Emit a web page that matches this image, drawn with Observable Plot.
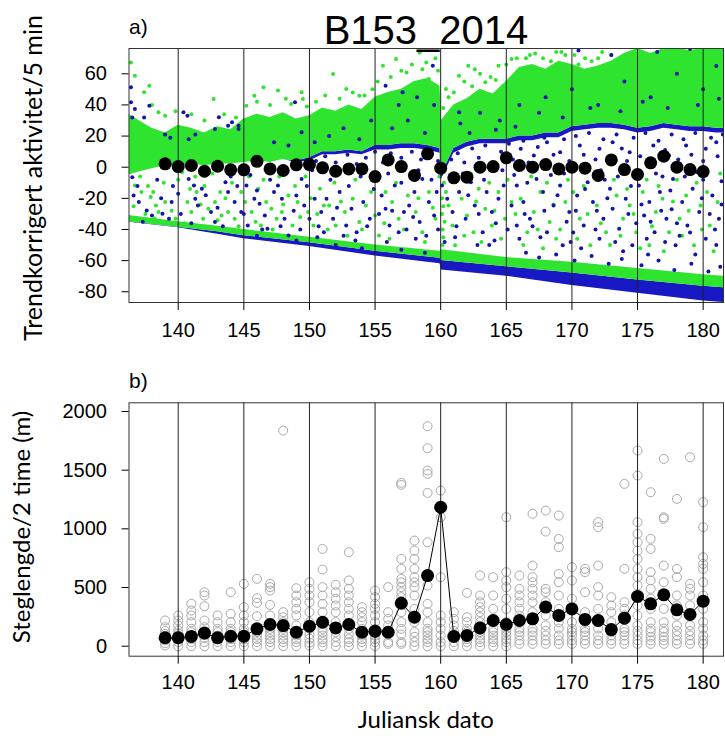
<!DOCTYPE html>
<html><head><meta charset="utf-8">
<script src="https://cdn.jsdelivr.net/npm/d3@7"></script>
<script src="https://cdn.jsdelivr.net/npm/@observablehq/plot@0.6"></script>
<style>
body{margin:0;background:#fff;}
#chart{position:relative;width:725px;height:742px;overflow:hidden;background:#fff;}
#chart > svg{position:absolute;left:0;}
</style></head><body><div id="chart"></div>
<script>
// ---------- labels ----------
const titleText = "B153_2014";
const panelA = "a)";
const panelB = "b)";
const yLabelTop = "Trendkorrigert aktivitet/5 min";
const yLabelBottom = "Steglengde/2 time (m)";
const xLabel = "Juliansk dato";
const gridDays = [140, 145, 150, 155, 160, 165, 170, 175, 180];
const yTicksTop = [-80, -60, -40, -20, 0, 20, 40, 60];
const yTicksBottom = [0, 500, 1000, 1500, 2000];

// ---------- panel a: dense cloud envelopes ----------
const bandDay    = [136.25,137,138,139,140,141,142,143,144,145,146,147,148,149,150,151,152,153,154,155,156,157,158,159,159.95,160.05,161,162,163,164,165,166,167,168,169,170,171,172,173,174,175,176,177,178,179,180,181,181.55];
const greenTop   = [34,30,25,22,27,25,22,26,24,31,34,32,35,31,33,38,36,40,37,45,48,50,55,57,52,30,40,44,50,47,55,64,66,63,68,66,63,65,68,73,76.25,73,76.25,76.25,75,76.25,76.25,76.25];
const greenBottom= [-5,-3,-1,1,0,2,1,2,2,3,4,3,5,4,6,10,10,11,10,14,14,15,15,14,12,-5,12,16,18,18,18,20,20,22,22,26,27,28,28,27,25,26,28,27,26,26,25,25];
const blueLow    = [-5,-3,-1,1,0,2,1,2,2,3,4,3,5,3,4,8,8,9,8,11,11,12,12,11,9,-8,9,13,15,15,15,17,17,19,19,23,24,25,25,24,22,23,25,24,23,23,22,22];

const floorDay        = [136.25,140,143,145,150,155,159.95,160.05,165,170,175,180,181.55];
const floorGreenTop   = [-31,-35,-38,-40,-45,-50,-54,-53,-58,-61,-65,-69,-70];
const floorBlueTop    = [-35,-38.5,-41.5,-44,-48.5,-54,-58.5,-60,-64,-68,-72.5,-76.5,-77.5];
const floorBlueBottom = [-35.3,-38.9,-43,-46,-51,-57,-62,-66,-70,-76,-81,-86,-86.9];

// ---------- panel a: sparse points (day, value) ----------
const blueScatter = [
[136.4,51.3],[136.4,41.7],[136.7,37.4],[137.8,39.5],[136.5,-6.4],[136.6,-18.2],[137.0,-22.4],[137.6,-27.8],[138.0,-31],[138.8,-29.9],[139.3,-33.1],[139.5,-22.4],[140.0,-17.1],[140.4,35.3],[140.7,33.1],[140.8,-7.5],[141.2,-11.7],[141.3,-20.3],[141.5,-24.6],[141.8,-13.9],[142.3,-3.2],[142.5,-28.8],[142.8,-35.2],[143.1,32.1],[143.6,-9.6],[143.8,-16],[144.1,28.9],[144.3,-22.4],[144.6,26.7],[144.8,-28.8],[145.2,-11.7],[145.3,-37.4],[145.8,-20.3],[146.2,-23.5],[146.6,-31],[146.8,-39.5],[147.3,-16],[147.6,-11.7],[147.9,-20.3],[148.1,-33.1],[148.4,-43.8],[148.9,41.7],[149.0,-18.2],[149.4,-7.5],[149.6,-24.6],[150.0,-33.1],[150.4,-20.3],[150.9,-28.8],[151.1,-41.7],
[151.3,-20.3],[151.8,-33.1],[152.3,-16],[152.8,-37.4],[153.2,-26.7],[153.6,-41.7],[154.1,-22.4],[154.6,-33.1],[155.1,-7.5],[155.5,-18.2],[155.8,-26.7],[156.1,-37.4],[156.5,-11.7],[156.8,-41.7],[157.2,-28.8],[157.6,-24.6],[158.0,-16],[158.4,-35.2],[158.6,-7.5],[159.1,-22.4],[159.5,-31],[159.7,-16],[160.1,-11.7],[160.5,-20.3],[160.9,-28.8],[161.4,-16],[161.9,-33.1],[162.3,-9.6],[162.6,-24.6],[163.2,-41.7],[163.5,-16],[163.9,-28.8],[164.4,-20.3],[164.8,-11.7],[165.4,-24.6],[165.8,-37.4],[155.8,52.4],[157.1,48.1],[159.4,65.2],[161.4,35.3],
[165.8,-11.7],[166.3,-22.4],[166.8,-33.1],[167.3,-7.5],[167.8,-16],[168.1,-41.7],[168.6,-24.6],[169.1,-11.7],[169.3,-50.2],[169.8,-28.8],[170.4,-18.2],[170.9,-37.4],[171.2,-9.6],[171.6,-22.4],[172.1,-45.9],[172.4,-33.1],[172.9,-13.9],[173.1,-26.7],[173.6,-39.5],[174.1,-20.3],[174.6,-50.2],[175.1,-11.7],[175.5,-31],[175.9,-22.4],[176.3,-41.7],[176.7,-16],[177.2,-33.1],[177.7,-7.5],[177.9,-50.2],[178.4,-22.4],[178.8,-37.4],[179.2,-13.9],[179.7,-28.8],[180.2,-45.9],[180.7,-18.2],[181.2,-33.1],
[166.1,11.8],[167.1,7.5],[168.1,16],[169.1,9.6],[170.6,13.9],[172.1,11.8],[173.1,16],[174.4,9.6],[176.2,13.9],[177.4,7.5],[178.7,13.9],[180.2,11.8],[181.0,16],
[166.5,-55],[167.5,-58],[168.8,-56],[170.2,-60],[171.5,-57],[172.8,-62],[173.8,-59],[175.3,-63],[176.6,-60],[177.8,-66],[179.1,-62],[180.4,-67],[181.3,-64],[146.0,-44],[149.0,-47],[152.0,-50],[154.0,-52],[157.0,-53],[158.8,-55],
[166.9,-2],[168.4,-5],[170.8,-3],[172.5,-8],[174.8,-4],[176.9,-6],[179.5,-3],[181.4,-9],[167.6,-45],[170.1,-42],[173.3,-48],[175.7,-46],[178.2,-44],[180.9,-40],[169.6,-35],[174.3,-30],[177.6,-27],[166.4,-30],[171.9,-28],[176.0,-35],[179.9,-20],[161.1,-45],[162.8,-50],[164.1,-47],[158.1,-46],[155.9,-48],[153.5,-47],[150.6,-45],
[136.9,-12],[137.3,-35],[138.4,-8],[138.7,-20],[139.6,-12],[140.2,-30],[141.0,-36],[141.9,-5],[142.1,-18],[143.0,-26],[143.4,-38],[144.0,-6],[144.5,-12],[145.0,-30],[145.5,-5],[146.0,-15],[146.4,-40],[147.0,-8],[147.8,-38],[148.2,-4],[148.8,-28],[149.3,-40],[149.8,-12],[150.2,-2],[150.7,-38],[151.6,-8],[152.1,-26],[152.6,-44],[153.0,-12],[153.9,-6],[154.4,-38],[154.9,-14],[155.3,-30],[156.0,-4],[156.3,-28],[157.0,-10],[157.4,-40],[157.9,-32],[158.3,-2],[158.9,-44],[159.3,-8],[159.8,-40],[160.3,-48],[160.7,-6],[161.2,-38],[161.7,-4],[162.1,-18],[162.9,-30],[163.3,-8],[163.7,-50],[164.2,-36],[164.7,-2],[165.1,-40],[165.6,-5],[166.0,-46],[166.6,-10],[167.0,-38],[167.9,-28],[168.3,2],[168.9,-18],[169.4,-4],[169.9,-48],[170.3,-28],[170.7,-52],[171.0,-14],[171.8,-40],[172.2,-2],[172.7,-20],[173.5,-6],[173.9,-54],[174.5,-12],[174.9,-36],[175.3,-24],[175.8,-56],[176.4,-4],[176.8,-28],[177.1,-48],[177.5,-15],[178.0,-36],[178.6,-6],[179.0,-42],[179.4,-56],[180.0,-8],[180.5,-30],[181.0,-50],[181.4,-24],
[160.8,5],[161.3,9],[161.8,3],[162.4,12],[162.9,6],[163.4,14],[163.9,2],[164.6,10],[165.2,15],[165.5,5],[166.3,17],[166.7,3],[167.4,13],[167.9,19],[168.6,8],[169.4,18],[169.8,4],[170.3,20],[170.9,8],[171.3,22],[171.8,5],[172.4,18],[172.8,3],[173.4,21],[173.8,12],[174.2,4],[174.7,19],[175.2,7],[175.6,22],[176.1,4],[176.6,17],[177.1,11],[177.6,21],[178.1,5],[178.5,18],[179.1,8],[179.4,22],[180.0,4],[180.6,19],[181.1,7],[181.5,21],
[150.5,4],[151.2,7],[152.0,3],[152.9,8],[153.6,2],[154.3,6],[155.0,10],[155.6,3],[156.2,9],[157.0,6],[157.8,10],[158.5,5],[159.2,11],[159.8,4]
];
const blueInBand = [
[136.5,32],[137.4,32],[139.0,21],[139.4,19],[140.8,18],[141.3,21],[142.8,24.6],[143.8,26.7],[144.6,24.6],[147.3,16],[148.4,13.9],[149.4,22.4],[150.4,16],[151.5,20],[152.6,25],[153.8,18],[154.7,30],[156.3,25],[157.5,30],[158.8,22],[159.5,40],[161.5,28],[163.0,35],[164.5,30],[166.0,40],[168.0,45],[170.0,50],[172.0,40],[174.0,55],[176.0,45],[178.0,60],[180.0,50],[181.0,65],[170.5,75],[173.0,72],[176.5,74],[179.0,76],[167.5,35],[169.3,32],[171.4,38],[173.7,36],[175.4,42],[177.3,38],[179.6,40],[181.2,44],[162.2,22],[164.2,24],[165.7,26],[156.8,40],[158.2,45]
];
const greenScatter = [
[136.4,67.3],[136.7,58.8],[137.8,52.4],[137.4,48.1],[138.5,35.3],[142.7,43.8],[145.2,39.5],[145.8,45.9],[146.5,51.3],[147.6,49.2],[148.6,40.6],[149.4,48.1],[149.5,43.8],
[136.7,-11.7],[137.2,-16],[137.9,-19.2],[138.3,-24.6],[138.5,-28.8],[139.0,-22.4],[139.8,-33.1],[140.3,-3.2],[140.7,-22.4],[141.0,-28.8],[141.4,-16],[141.9,-33.1],[142.3,-26.7],[142.8,-22.4],[143.2,-16],[143.3,-31],[143.8,-28.8],[144.3,-33.1],[144.8,-16],[145.1,-22.4],[145.6,-28.8],[146.1,-13.9],[146.3,-37.4],[146.7,-22.4],[147.1,-26.7],[147.5,-33.1],[147.9,-28.8],[148.4,-18.2],[148.7,-37.4],[149.1,-22.4],[149.9,-28.8],[150.3,-37.4],[150.8,-13.9],[151.1,-24.6],
[151.8,59.8],[152.8,50.2],[153.8,45.9],[155.6,65.2],[156.6,69.5],[157.4,60.9],[158.4,73.7],[158.9,67.3],[159.1,56.6],[160.4,50.2],[161.4,58.8],[162.1,65.2],[162.6,63],[163.4,54.5],[164.4,65.2],[164.9,48.1],[165.4,69.5],
[151.5,-24.6],[152.0,-37.4],[152.7,-28.8],[153.3,-20.3],[153.8,-35.2],[154.3,-24.6],[155.0,-31],[155.3,-43.8],[155.8,-16],[156.3,-22.4],[156.8,-33.1],[157.5,-18.2],[158.1,-28.8],[158.6,-41.7],[159.1,-16],[159.6,-33.1],[160.2,-3.2],[160.4,-16],[160.6,-24.6],[160.9,-37.4],[161.1,-50.2],[161.6,-20.3],[162.0,-31],[162.5,-41.7],[162.9,-13.9],[163.4,-26.7],[163.9,-37.4],[164.4,-16],[164.9,-33.1],[165.4,-22.4],
[166.1,-20.3],[166.6,-41.7],[167.1,-28.8],[167.6,-16],[168.3,-35.2],[168.8,-45.9],[169.5,-22.4],[170.1,-16],[170.6,-33.1],[171.4,-50.2],[171.9,-24.6],[172.6,-41.7],[173.4,-18.2],[173.9,-33.1],[174.4,-24.6],[174.9,-41.7],[175.4,-16],[175.9,-50.2],[176.4,-28.8],[176.9,-20.3],[177.4,-41.7],[178.2,-33.1],[178.7,-18.2],[179.3,-50.2],[179.8,-24.6],[180.5,-37.4],[181.1,-22.4],
[160.1,-30],[160.15,-40],[160.2,-45],[160.1,-20],[160.25,-10],[160.3,-35],[160.15,-50],[160.2,-25],
[137.5,-30],[138.2,-33],[139.2,-35],[140.5,-36],[141.6,-38],[142.6,-39],[143.5,-40],
[166.5,70],[167.2,73],[168.4,68],[169.5,72],[171.0,70],[172.3,74],[170.5,66],
[136.6,-25],[137.1,-6],[137.7,-12],[138.1,-16],[138.9,-10],[139.5,-28],[140.0,-8],[140.9,-14],[141.3,-6],[141.7,-24],[142.0,-12],[142.6,-4],[143.0,-34],[143.6,-20],[144.1,-10],[144.6,-38],[145.4,-6],[145.9,-35],[146.5,-8],[147.2,-40],[147.7,-6],[148.0,-24],[148.9,-12],[149.3,-32],[149.7,-6],[150.1,-20],[150.6,-30],[151.4,-40],[151.9,-10],[152.4,-22],[152.9,-44],[153.5,-8],[154.0,-40],[154.7,-16],[155.2,-6],[155.7,-36],[156.1,-46],[156.6,-10],[157.2,-40],[157.8,-6],[158.3,-20],[158.8,-48],[159.4,-26],[159.9,-6],[161.3,-8],[161.8,-44],[162.3,-4],[162.7,-22],[163.1,-48],[163.7,-10],[164.1,-28],[164.6,-46],[165.1,-8],[165.7,-30],[166.3,-50],[166.9,-6],[167.4,-40],[167.8,-52],[168.1,-10],[168.6,-24],[169.1,-40],[169.7,-8],[170.4,-46],[170.9,-12],[171.2,-30],[171.7,-6],[172.2,-36],[172.9,-50],[173.2,-8],[173.7,-44],[174.2,-14],[174.7,-30],[175.2,-52],[175.7,-8],[176.1,-38],[176.6,-12],[177.0,-54],[177.7,-22],[178.0,-8],[178.4,-44],[178.9,-28],[179.5,-10],[179.9,-40],[180.3,-16],[180.8,-54],[181.3,-4],
[138.0,40],[139.0,33],[139.8,36],[141.0,34],[142.0,30],[143.5,34],[144.4,32],[146.0,42],[147.0,40],[148.2,44],[149.8,39],[150.5,42],[151.2,46],[152.3,44],[153.3,48],[154.2,46],[154.8,50],[155.2,55],[156.2,58],[157.0,62],[157.8,66],[158.6,63],[159.6,70],[159.8,62],[160.2,38],[160.6,45],[161.0,48],[161.8,55],[162.4,52],[163.0,60],[163.8,58],[164.2,56],[165.0,66],[165.8,70],[166.8,72],[167.8,70],[168.8,74],[169.2,74],[170.2,72],[171.5,68],[172.0,70],[173.0,72]
];

// ---------- panel a: daily means ----------
const meanDays = [139,140,141,142,143,144,145,146,147,148,149,150,151,152,153,154,155,156,157,158,159,160,161,162,163,164,165,166,167,168,169,170,171,172,173,174,175,176,177,178,179,180];
const activityMeans = [2.2,0.4,1.1,-2.6,0.6,-1.7,-1.7,3.8,-1.1,-2.1,1.5,1.7,-0.4,-2.6,-1.1,-1.1,-6,4.7,0.4,-5.3,8.6,-0.6,-6.8,-6.4,0,0.4,6,1.1,0,1.7,-1.1,0,-0.6,-5.3,4.7,-1.5,-4.7,2.8,7.1,0,-1.5,-2.8];

// ---------- panel b ----------
const stepMeans = [72,72,83,111,72,85,85,148,185,176,119,170,204,156,185,119,128,119,366,247,602,1184,83,91,156,219,185,219,233,333,262,318,228,219,142,239,424,361,438,310,270,384];
const stepSamples = [
[219,162,130,105,75,49,25,6],
[262,219,177,134,110,91,60,35,0],
[361,304,262,205,148,120,91,60,35,0],
[460,432,341,219,162,130,105,70,35,0],
[262,205,148,120,91,60,35,0],
[460,276,205,148,120,91,60,35,0],
[531,333,262,205,148,120,91,60,35,0],
[574,409,369,256,148,120,91,60,35,0],
[531,503,474,352,262,148,120,91,60,35,0],
[1837,290,247,205,148,120,91,60,35,0],
[494,432,375,318,262,177,120,91,60,35,0],
[545,489,432,375,290,205,148,100,63,30,6],
[829,653,503,432,361,290,205,148,120,91,60,35,0],
[523,460,404,347,290,205,120,80,35,0],
[801,560,489,432,375,318,262,148,100,60,35,0],
[333,290,247,205,148,120,91,60,35,0],
[474,418,361,318,262,205,148,120,91,60,35,0],
[503,290,233,177,120,35,20],
[1392,1375,744,659,574,545,503,460,418,375,290,205,148,100,35,20],
[900,815,744,659,588,545,503,432,318,262,205,120,80,35,0],
[1874,1687,1497,1468,1306,886,517,361,290,205,148,120,91,60,35,0],
[1326,1099,588,262,205,148,91,35,0],
[290,233,177,130,91,35,0],
[455,247,205,148,120,91,60,35,0],
[602,432,375,333,290,247,205,148,120,91,60,35,0],
[588,432,318,205,148,120,91,60,35,0],
[1099,631,560,503,404,318,205,148,120,91,60,35,0],
[602,489,432,375,318,262,205,148,120,91,50,20],
[1128,687,588,545,489,432,375,290,148,120,91,50,20],
[1156,977,489,460,375,262,177,130,91,50,20],
[1113,914,844,616,545,432,318,205,150,91,50,20],
[673,560,404,318,205,148,120,91,50,20],
[659,631,460,290,205,148,120,91,50,20],
[1057,1014,687,503,432,318,205,150,91,50,20],
[418,347,290,205,148,120,91,50,20],
[1383,659,375,318,262,148,120,91,50,20],
[1667,1454,1057,957,886,815,744,659,588,517,432,347,262,177,130,91,50,20],
[1312,915,829,631,560,489,404,318,205,150,120,80,50,20],
[1596,1099,1085,687,545,432,318,205,150,120,80,50,20],
[1255,659,588,432,347,262,177,130,91,50,20],
[1610,531,489,432,347,262,177,130,91,50,20],
[1227,1014,758,701,659,545,432,318,205,150,91,50,20]
];

// ---------- build tables ----------
const GREEN = "#2fe42f", BLUE = "#1818c4", DOTBLUE = "#1414a8";
const bandTable = bandDay.map((d,i)=>({day:d, top:greenTop[i], bottom:greenBottom[i], low:blueLow[i]}));
const floorTable = floorDay.map((d,i)=>({day:d, gTop:floorGreenTop[i], bTop:floorBlueTop[i], bBot:floorBlueBottom[i]}));
const meanTable = meanDays.map((d,i)=>({day:d, act:activityMeans[i], step:stepMeans[i]}));
const stepTable = meanDays.flatMap((d,i)=>stepSamples[i].map(v=>({day:d, value:v})));

const fontAxis = "'Liberation Sans', Arial, Helvetica, sans-serif";
const xDomain = [136.25, 181.55];

const topPlot = Plot.plot({
  width: 725, height: 345,
  marginLeft: 128.5, marginRight: 2, marginTop: 48, marginBottom: 43,
  style: {fontFamily: fontAxis, fontSize: "20px", color: "#000", background: "transparent"},
  x: {domain: xDomain},
  y: {domain: [-86.9, 76.25]},
  marks: [
    Plot.areaY(floorTable, {x:"day", y1:"bBot", y2:"bTop", fill: BLUE, clip: true}),
    Plot.areaY(floorTable, {x:"day", y1:"bTop", y2:"gTop", fill: GREEN, clip: true}),
    Plot.areaY(bandTable, {x:"day", y1:"low", y2:"bottom", fill: BLUE, clip: true}),
    Plot.areaY(bandTable, {x:"day", y1:"bottom", y2:"top", fill: GREEN, clip: true}),
    Plot.dot(greenScatter, {x: d=>d[0], y: d=>d[1], r: 2, fill: GREEN, clip: true}),
    Plot.dot(blueScatter, {x: d=>d[0], y: d=>d[1], r: 2, fill: DOTBLUE, clip: true}),
    Plot.dot(blueInBand, {x: d=>d[0], y: d=>d[1], r: 2, fill: DOTBLUE, clip: true}),
    Plot.ruleX(gridDays, {stroke: "#222", strokeWidth: 1}),
    Plot.dot(meanTable, {x:"day", y:"act", r: 6.5, fill: "#000"}),
    Plot.frame({stroke: "#333"}),
    Plot.axisX({ticks: gridDays, tickSize: 8, tickPadding: 12, label: null, tickFormat: d=>String(d)}),
    Plot.axisY({ticks: yTicksTop, tickSize: 7, tickPadding: 15, label: null, tickFormat: d=>String(d)})
  ]
});
topPlot.style.top = "0px";

const bottomPlot = Plot.plot({
  width: 725, height: 387,
  marginLeft: 128.5, marginRight: 2, marginTop: 47.3, marginBottom: 86.3,
  style: {fontFamily: fontAxis, fontSize: "20px", color: "#000", background: "transparent"},
  x: {domain: xDomain},
  y: {domain: [-85.2, 2074]},
  marks: [
    Plot.dot(stepTable, {x:"day", y:"value", r: 4.5, stroke: "#a9a9a9", strokeWidth: 1, fill: "none"}),
    Plot.ruleX(gridDays, {stroke: "#222", strokeWidth: 1}),
    Plot.line(meanTable, {x:"day", y:"step", stroke: "#000", strokeWidth: 1}),
    Plot.dot(meanTable, {x:"day", y:"step", r: 6.5, fill: "#000"}),
    Plot.frame({stroke: "#333"}),
    Plot.axisX({ticks: gridDays, tickSize: 8, tickPadding: 11, label: null, tickFormat: d=>String(d)}),
    Plot.axisY({ticks: yTicksBottom, tickSize: 7, tickPadding: 15, label: null, tickFormat: d=>String(d)})
  ]
});
bottomPlot.style.top = "355px";

const chart = document.getElementById("chart");
chart.appendChild(topPlot);
chart.appendChild(bottomPlot);

// ---------- text overlay ----------
const overlay = d3.create("svg").attr("width", 725).attr("height", 742)
  .style("top", "0px").style("pointer-events", "none");
const labelFont = "Lato, 'Open Sans', sans-serif";
overlay.append("text").attr("x", 426).attr("y", 44).attr("text-anchor", "middle")
  .attr("font-family", fontAxis).attr("font-size", 40).text(titleText);
overlay.append("text").attr("x", 129).attr("y", 34)
  .attr("font-family", fontAxis).attr("font-size", 21).text(panelA);
overlay.append("text").attr("x", 129).attr("y", 388)
  .attr("font-family", fontAxis).attr("font-size", 21).text(panelB);
overlay.append("text").attr("transform", "translate(42,178) rotate(-90)").attr("text-anchor", "middle")
  .attr("font-family", labelFont).attr("font-size", 25).text(yLabelTop);
overlay.append("text").attr("transform", "translate(30,527) rotate(-90)").attr("text-anchor", "middle")
  .attr("font-family", labelFont).attr("font-size", 24).text(yLabelBottom);
overlay.append("text").attr("x", 425.75).attr("y", 728).attr("text-anchor", "middle")
  .attr("font-family", labelFont).attr("font-size", 24).text(xLabel);
chart.appendChild(overlay.node());
</script></body></html>
